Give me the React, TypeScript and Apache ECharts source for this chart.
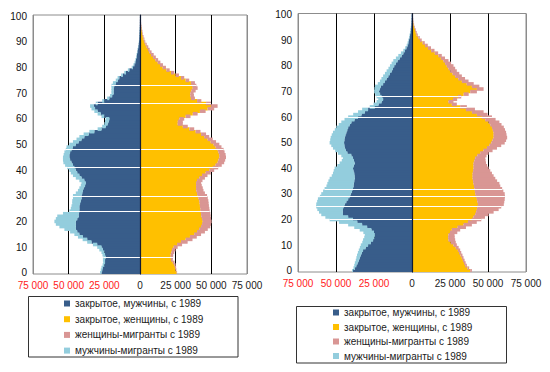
import React, { useEffect, useRef } from "react";
import * as echarts from "echarts";

// Ages 0..100 (category axis)
const AGES: string[] = Array.from({ length: 101 }, (_, i) => String(i));

// Values in thousands of people, index = age
const LEFT_M_CLOSED = [27,26.5,26,25,24.5,24.5,24,24.5,25,26, 27,30,34,37,40,42.5,44,45,45,45, 45,44,43,43,42.5,42.5,42.5,42,41.5,41, 41,40.5,40,39.5,38.5,38,39,41,42.5,44, 45,46,47,48,49,49.5,49.5,49,48,47, 45,43,41,39,36,32,27,24,22.7,22, 21.5,25,27.5,29.7,31.5,32.5,29.7,25,21.5,19.5, 18.5,18.5,18.5,18,16.8,15.5,14.5,12,9.8,7.5, 5,4,3.3,2.8,2.4,2.1,1.8,1.5,1.2,0.9, 0.7,0.6,0.5,0.4,0.3,0.2,0.15,0.1,0.1,0.05, 0.05];
const LEFT_M_MIGR = [1,1,1,1.2,1.3,1.5,1.5,1.8,2,2.5, 3,3,3,3.2,3.5,3.5,5,8,11.5,14, 15,15,15,11,7,6,5.5,5.5,6,6, 6,4.5,3.5,3,3,3,3.5,4,4.5,4.5, 4.5,5,5.5,5.7,5,4.5,4,4,4,4.5, 4.5,4,3.5,3.5,3.5,3.5,2.7,2.5,2.3,2.5, 2.5,2,2.2,2.3,2.5,2.5,1.3,1.5,1.5,1.5, 1.5,1.5,1.5,2,2.2,1.5,1.2,1.2,1.2,1, 0.8,0.6,0.5,0.4,0.3,0.3,0.2,0.2,0.2,0.1, 0.1,0.1,0.1,0.1,0.1,0.1,0,0,0,0, 0];
const LEFT_F_CLOSED = [25.7,25,24.5,24,23,21.7,21.5,21.5,22,22.5, 23.6,26,28.7,32,35,38,40,41.5,42.8,43.5, 44,43.5,43,42.8,42.5,42.3,42,41.8,41.6,41, 40.4,40,39.5,39.3,39.3,39.3,40,41.6,43.5,46, 48.6,51,53,54.4,55,55.6,55.5,55,54.4,53, 51.6,49.5,47.4,45,42.8,39,34.6,30,26.4,26.5, 27.6,32,37,42,47.4,49.8,46.3,40,35.7,35.3, 35.3,36,37,36.5,35.7,32,28.7,25,21.7,18.5, 15.9,14,12.4,10.8,9.2,7.7,6.6,5.6,4.7,3.8, 3,2.5,2,1.6,1.3,1,0.8,0.6,0.5,0.4, 0.3];
const LEFT_F_MIGR = [0.3,0.5,0.8,1,1.2,1.3,1.6,1.8,2,2.4, 2.8,3.5,4.7,4.8,4.8,4.8,5.5,6,6.5,6.3, 6.2,6.3,6.5,6.5,6.3,6.3,6.3,6.3,6.3,6.5, 6.6,5.5,5,4.7,4,3.5,3.8,3.9,3.8,3.6, 3.4,3.8,4.3,4.6,4.7,4.7,4.5,4.3,4.2,4.1, 4,3.8,3.6,3.5,3.5,3.4,3.4,3.5,3.6,3.5, 3.4,3.4,3.4,4,4.6,4.6,3.5,3,2.8,2.5, 2.3,3,3.4,3,2.8,2.5,2.3,2.3,2.3,2.3, 2.3,2.1,1.9,1.9,1.9,1.9,1.5,1.2,1.1,0.9, 0.7,0.6,0.5,0.4,0.4,0.3,0.3,0.2,0.2,0.2, 0.2];

const RIGHT_M_CLOSED = [38.8,37.5,36.6,35.8,35,34.4,33.8,33,32.2,30.5, 28.9,27,25.6,24.8,24.4,25,26.7,29.5,32.8,36, 38.8,42,45.4,45.6,45.4,45,44.3,43.2,42,41, 40.3,39.5,38.8,38.5,38.3,38,37.7,37.8,38,38.5, 38.8,38.3,37.7,38.2,38.8,39.9,42.5,43.5,44.3,44.5, 44.7,44.5,44.3,43.8,43.2,42.6,42,41,39.9,37.8, 35.5,33.2,31,28.9,24.4,22,20,19,20,21, 21.8,21.2,20.5,19,17.8,16.7,15.6,14.5,13.4,12.5, 11.7,10.6,9.5,8.1,6.8,5.7,4.6,3.7,2.9,2.4, 2,1.6,1.3,1,0.8,0.6,0.5,0.4,0.3,0.2, 0.2];
const RIGHT_M_MIGR = [0.6,1,1.4,1.8,2,2.2,2.4,2.6,2.8,3.8, 4.8,5.7,6.6,6.6,6.6,7,7.7,8.5,9.2,12, 15.4,15,14.3,15.6,16.9,18,18.7,19.2,19.9,19.6, 19.4,19,18.7,17.8,17.4,17,16.5,15,14,13, 12.1,10.8,9.9,8,6.6,6.6,6.2,7,7.7,8.6, 9.5,9.3,9.2,9,8.8,8.2,7.8,7.2,6.6,6.6, 6.5,5.5,4.5,3.9,3.4,3.3,3.3,3.2,3.3,3.2, 3.1,3.5,3.9,3.5,3.3,3.4,3.4,3.3,3.3,3, 2.8,2.8,2.8,2.5,2.2,1.6,1.1,0.8,0.6,0.5, 0.4,0.3,0.3,0.2,0.2,0.2,0.1,0.1,0.1,0.1, 0.05];
const RIGHT_F_CLOSED = [38.3,36.5,35,34.2,33.5,32.8,32,31,30.2,28.8, 27.3,25.5,24,23.8,24,25,26.2,30,33.9,36.8, 39.4,40.5,41.6,42.2,42.7,43,43.4,43,42.7,42.2, 41.6,41.4,41.2,40.8,40.5,40.2,39.9,39.9,39.9,40.2, 40.5,40.5,40.5,41,41.6,43,44.9,47,49.3,51, 52.2,53,53.7,53.7,53.7,53.2,52.6,51.5,50.4,48.2, 46,42.7,39.4,35.5,31.7,26.2,24,27,30.2,34, 38.3,42.7,39.4,36,32.8,30.5,28.4,26.7,25.1,24, 22.9,21.8,20.7,19,17.4,15,12.6,10.5,8.6,7, 5.3,4.2,3.1,2.5,2,1.5,1.1,0.8,0.6,0.4, 0.3];
const RIGHT_F_MIGR = [1.1,1.1,1.1,1.1,1.1,1.1,1.2,1.4,1.5,1.9, 2.2,3.3,4.4,4.3,4,4.8,5.5,5.5,5.5,5.8, 6.2,7.5,8.8,11.5,14.3,15.7,17,17.7,18.3,18.9, 19.4,18.7,18.1,17.3,17,15.8,14.9,13.8,12.7,11.3, 9.9,8.9,8.2,7.4,6.6,6,5.5,6,6.6,7.7, 8.8,8.9,8.9,8.5,8.2,8,7.8,7.4,7.1,6.8, 6.6,7,7.7,5.9,4.4,3.3,3.3,2.7,2.2,3.3, 4.4,4.4,4.9,4.6,4.4,4.4,4.4,4.4,4.4,4.4, 4.4,3.9,3.3,2.7,2.2,2.2,2.2,2,1.8,1.4, 1.1,0.9,0.7,0.6,0.5,0.4,0.3,0.2,0.2,0.1, 0.1];

// Ages where the original shows thin white gaps across the bars
const LEFT_GAP_AGES = [73, 66, 48, 41, 30, 24, 6];
const RIGHT_GAP_AGES = [68, 64, 60, 32, 29, 25, 20];

const SERIES_NAMES = [
  "закрытое, мужчины, с 1989",
  "закрытое, женщины, с 1989",
  "женщины-мигранты с 1989",
  "мужчины-мигранты с 1989",
];

const X_MIN = -75000;
const X_MAX = 75000;
const X_STEP = 25000;

const C_BLUE = "#385D8A";
const C_YELLOW = "#FFC000";
const C_PINK = "#D99694";
const C_LIGHTBLUE = "#93CDDD";
const FONT = "Liberation Sans, Arial, sans-serif";

function fmt(v: number): string {
  const a = Math.abs(v);
  if (a === 0) return "0";
  const s = String(a);
  return s.slice(0, s.length - 3) + " " + s.slice(s.length - 3);
}

function buildSeries(
  idx: number,
  mClosed: number[],
  mMigr: number[],
  fClosed: number[],
  fMigr: number[],
  gaps: number[]
) {
  const common = {
    type: "bar",
    xAxisIndex: idx,
    yAxisIndex: idx,
    barWidth: "140%",
    barGap: "-100%",
  };
  return [
    { ...common, name: SERIES_NAMES[0], stack: "m" + idx, data: mClosed.map((v) => -v * 1000), itemStyle: { color: C_BLUE } },
    { ...common, name: SERIES_NAMES[3], stack: "m" + idx, data: mMigr.map((v) => -v * 1000), itemStyle: { color: C_LIGHTBLUE } },
    { ...common, name: SERIES_NAMES[1], stack: "f" + idx, data: fClosed.map((v) => v * 1000), itemStyle: { color: C_YELLOW } },
    { ...common, name: SERIES_NAMES[2], stack: "f" + idx, data: fMigr.map((v) => v * 1000), itemStyle: { color: C_PINK } },
    {
      type: "line",
      xAxisIndex: idx,
      yAxisIndex: idx,
      data: [],
      z: 5,
      silent: true,
      markLine: {
        silent: true,
        symbol: "none",
        label: { show: false },
        lineStyle: { color: "#ffffff", width: 1, type: "solid" },
        data: gaps.map((a) => [
          { coord: [-(mClosed[a] + mMigr[a]) * 1000, a] },
          { coord: [(fClosed[a] + fMigr[a]) * 1000, a] },
        ]),
      },
    },
  ];
}

function xAxis(idx: number, margin: number) {
  return {
    gridIndex: idx,
    type: "value",
    min: X_MIN,
    max: X_MAX,
    interval: X_STEP,
    axisLine: { show: false },
    axisTick: { show: false },
    splitLine: {
      lineStyle: {
        color: ["#8c8c8c", "#000000", "#000000", "#000000", "#000000", "#000000", "#8c8c8c"],
        width: 1,
      },
    },
    axisLabel: {
      fontSize: 10,
      fontFamily: FONT,
      margin,
      formatter: (v: number) => fmt(v),
      color: (v: any) => (Number(v) < 0 ? "#FF1A1A" : "#1a1a1a"),
    },
  };
}

function yAxis(idx: number) {
  return {
    gridIndex: idx,
    type: "category",
    data: AGES,
    z: 10,
    axisLine: { onZero: true, lineStyle: { color: "#101a33", width: 1.2 } },
    axisTick: { show: false },
    axisLabel: { interval: 9, fontSize: 10, fontFamily: FONT, color: "#111", margin: 6 },
  };
}

function legend(left: number, top: number, gap: number) {
  return {
    orient: "vertical",
    left,
    top,
    padding: 0,
    itemWidth: 6,
    itemHeight: 6,
    itemGap: gap,
    icon: "rect",
    selectedMode: false,
    data: SERIES_NAMES,
    textStyle: { fontSize: 10, fontFamily: FONT, color: "#222", lineHeight: 12 },
  };
}

export default function App() {
  const ref = useRef<HTMLDivElement>(null);
  useEffect(() => {
    document.body.style.margin = "0";
    if (!ref.current) return;
    const chart = echarts.init(ref.current, undefined, { renderer: "svg" });
    chart.setOption({
      animation: false,
      backgroundColor: "#ffffff",
      textStyle: { fontFamily: FONT },
      grid: [
        { left: 33, right: 303, top: 15, bottom: 98, show: true, borderColor: "#8c8c8c", borderWidth: 1 },
        { left: 298, right: 24, top: 13.5, bottom: 100, show: true, borderColor: "#8c8c8c", borderWidth: 1 },
      ],
      xAxis: [xAxis(0, 6), xAxis(1, 6)],
      yAxis: [yAxis(0), yAxis(1)],
      legend: [legend(64, 297.5, 3.7), legend(333, 306.5, 2.5)],
      graphic: [
        { type: "rect", shape: { x: 28.5, y: 296.5, width: 209.5, height: 60.5 }, style: { fill: "none", stroke: "#333", lineWidth: 1 }, z: -1 },
        { type: "rect", shape: { x: 296.5, y: 306.5, width: 210, height: 56.5 }, style: { fill: "none", stroke: "#333", lineWidth: 1 }, z: -1 },
      ],
      series: [
        ...buildSeries(0, LEFT_M_CLOSED, LEFT_M_MIGR, LEFT_F_CLOSED, LEFT_F_MIGR, LEFT_GAP_AGES),
        ...buildSeries(1, RIGHT_M_CLOSED, RIGHT_M_MIGR, RIGHT_F_CLOSED, RIGHT_F_MIGR, RIGHT_GAP_AGES),
      ],
    });
    return () => chart.dispose();
  }, []);
  return <div ref={ref} style={{ width: 550, height: 372 }} />;
}
